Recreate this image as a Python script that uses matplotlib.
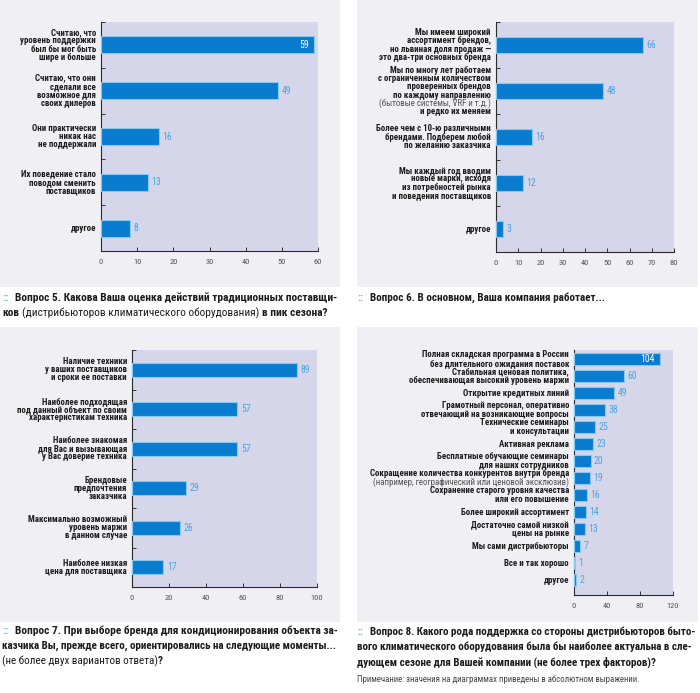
import numpy as np
import matplotlib
matplotlib.use('Agg')
import matplotlib.pyplot as plt
import matplotlib.transforms as mtrans
from matplotlib import font_manager as fm
from matplotlib.font_manager import FontProperties
from matplotlib.patches import Rectangle

# ---------------- data ----------------
q5_labels = ["Считаю, что\nуровень поддержки\nбыл бы мог быть\nшире и больше",
             "Считаю, что они\nсделали все\nвозможное для\nсвоих дилеров",
             "Они практически\nникак нас\nне поддержали",
             "Их поведение стало\nповодом сменить\nпоставщиков",
             "другое"]
q5_values = [59, 49, 16, 13, 8]
q5_ticks = [0, 10, 20, 30, 40, 50, 60]

q6_labels = ["Мы имеем широкий\nассортимент брендов,\nно львиная доля продаж —\nэто два-три основных бренда",
             "Мы по многу лет работаем\nс ограниченным количеством\nпроверенных брендов\nпо каждому направлению\n(бытовые системы, VRF и т.д.)\nи редко их меняем",
             "Более чем с 10-ю различными\nбрендами. Подберем любой\nпо желанию заказчика",
             "Мы каждый год вводим\nновые марки, исходя\nиз потребностей рынка\nи поведения поставщиков",
             "другое"]
q6_values = [66, 48, 16, 12, 3]
q6_ticks = [0, 10, 20, 30, 40, 50, 60, 70, 80]

q7_labels = ["Наличие техники\nу ваших поставщиков\nи сроки ее поставки",
             "Наиболее подходящая\nпод данный объект по своим\nхарактеристикам техника",
             "Наиболее знакомая\nдля Вас и вызывающая\nу Вас доверие техника",
             "Брендовые\nпредпочтения\nзаказчика",
             "Максимально возможный\nуровень маржи\nв данном случае",
             "Наиболее низкая\nцена для поставщика"]
q7_values = [89, 57, 57, 29, 26, 17]
q7_ticks = [0, 20, 40, 60, 80, 100]

q8_labels = ["Полная складская программа в России\nбез длительного ожидания поставок",
             "Стабильная ценовая политика,\nобеспечивающая высокий уровень маржи",
             "Открытие кредитных линий",
             "Грамотный персонал, оперативно\nотвечающий на возникающие вопросы",
             "Технические семинары\nи консультации",
             "Активная реклама",
             "Бесплатные обучающие семинары\nдля наших сотрудников",
             "Сокращение количества конкурентов внутри бренда\n(например, географический или ценовой эксклюзив)",
             "Сохранение старого уровня качества\nили его повышение",
             "Более широкий ассортимент",
             "Достаточно самой низкой\nцены на рынке",
             "Мы сами дистрибьюторы",
             "Все и так хорошо",
             "другое"]
q8_values = [104, 60, 49, 38, 25, 23, 20, 19, 16, 14, 13, 7, 1, 2]
q8_ticks = [0, 40, 80, 120]

caption5 = [[("Вопрос 5. Какова Ваша оценка действий традиционных поставщи-", 'bold')],
            [("ков", 'bold'), (" (дистрибьюторов климатического оборудования)", 'normal'),
             (" в пик сезона?", 'bold')]]
caption6 = [[("Вопрос 6. В основном, Ваша компания работает...", 'bold')]]
caption7 = [[("Вопрос 7. При выборе бренда для кондиционирования объекта за-", 'bold')],
            [("казчика Вы, прежде всего, ориентировались на следующие моменты...", 'bold')],
            [("(не более двух вариантов ответа)", 'normal'), ("?", 'bold')]]
caption8 = [[("Вопрос 8. Какого рода поддержка со стороны дистрибьюторов быто-", 'bold')],
            [("вого климатического оборудования была бы наиболее актуальна в сле-", 'bold')],
            [("дующем сезоне для Вашей компании (не более трех факторов)?", 'bold')]]
note_text = "Примечание: значения на диаграммах приведены в абсолютном выражении."

# ---------------- style ----------------
W, H = 700, 693
PANEL_BG = '#efeff4'
PLOT_BG = '#d6d6eb'
BAR = '#0a7ccf'
EDGE = '#86c9ef'
VAL = '#4aa3e0'
TXT = '#1c1c1c'
MARK = '#6ab6e8'


def pick_font():
    order = ['Roboto Condensed', 'Liberation Sans Narrow', 'Noto Sans', 'Noto Sans Condensed',
             'Open Sans', 'Open Sans Condensed', 'DejaVu Sans', 'Roboto']
    cond = {}
    for e in fm.fontManager.ttflist:
        st = str(e.stretch)
        if st in ('condensed', 'semi-condensed', 'extra-condensed') or 'Narrow' in e.name or 'Condensed' in e.name:
            cond.setdefault(e.name, []).append(st)
    for fam in order:
        if fam in cond:
            sts = cond[fam]
            for pref in ('condensed', 'semi-condensed', 'extra-condensed'):
                if pref in sts:
                    return fam, pref
            return fam, sts[0]
    return 'Liberation Sans', 'normal'


FAM, STRETCH = pick_font()


def FP(weight, size):
    return FontProperties(family=[FAM, 'DejaVu Sans'], stretch=STRETCH, weight=weight, size=size)


fig = plt.figure(figsize=(W / 100, H / 100), dpi=100)
fig.patch.set_facecolor('white')
renderer = fig.canvas.get_renderer()


def measure(text, fp):
    t = fig.text(0, 0, text, fontproperties=fp)
    w = t.get_window_extent(renderer).width
    t.remove()
    return w


def box(x0, y0, x1, y1):
    fig.add_artist(Rectangle((x0 / W, 1 - y1 / H), (x1 - x0) / W, (y1 - y0) / H,
                             transform=fig.transFigure, facecolor=PANEL_BG,
                             edgecolor='none', zorder=0))


box(0, 0, 340, 287)
box(357, 0, 698, 287)
box(0, 327, 340, 622)
box(357, 327, 698, 622)

# label font size fitted to a reference label line width
LABEL_SIZE = 10 * 147 / measure("Полная складская программа в России", FP('bold', 10))
VAL_SIZE = 7
TICK_SIZE = 6


def draw_panel(rect, labels, values, xmax, xticks, bar_h, inside, ylim, line_px,
               boundary_ticks=True):
    x0, y0, x1, y1 = rect
    ax = fig.add_axes([x0 / W, 1 - y1 / H, (x1 - x0) / W, (y1 - y0) / H])
    ax.set_facecolor(PLOT_BG)
    n = len(values)
    pos = np.arange(n)
    ax.barh(pos, values, height=bar_h, color=BAR, edgecolor=EDGE, linewidth=0.8, zorder=3)
    ax.set_xlim(0, xmax)
    ax.set_ylim(*ylim)
    ax.set_xticks(xticks)
    ax.set_xticklabels([str(t) for t in xticks])
    for lbl in ax.get_xticklabels():
        lbl.set_fontproperties(FP('normal', TICK_SIZE))
        lbl.set_color('#555555')
    ax.tick_params(axis='x', direction='in', length=3, width=0.7, pad=6, color='#333333')
    ax.set_yticks([])
    if boundary_ticks:
        ax.set_yticks(np.arange(n) - 0.5, minor=True)
        ax.tick_params(axis='y', which='minor', direction='in', length=3, width=0.7,
                       color='#333333', labelleft=False)
    for s in ('top', 'right'):
        ax.spines[s].set_visible(False)
    for s in ('left', 'bottom'):
        ax.spines[s].set_color('#2a2a2a')
        ax.spines[s].set_linewidth(0.8)

    trans = mtrans.blended_transform_factory(ax.transAxes, ax.transData)
    for i, lab in enumerate(labels):
        lines = lab.split('\n')
        k = len(lines)
        for j, line in enumerate(lines):
            off = ((k - 1) / 2 - j) * line_px
            reg = line.startswith('(')
            ax.annotate(line, xy=(0, i), xycoords=trans, xytext=(-5 * 0.72, off * 0.72),
                        textcoords='offset points', ha='right', va='center',
                        fontproperties=FP('normal' if reg else 'bold', LABEL_SIZE),
                        color='#555555' if reg else TXT)
    for i, v in enumerate(values):
        if i in inside:
            ax.annotate(str(v), xy=(v, i), xytext=(-4, 0), textcoords='offset points',
                        ha='right', va='center', color='white',
                        fontproperties=FP('normal', VAL_SIZE), zorder=5)
        else:
            ax.annotate(str(v), xy=(v, i), xytext=(2.5, 0), textcoords='offset points',
                        ha='left', va='center', color=VAL,
                        fontproperties=FP('normal', VAL_SIZE), zorder=5)
    return ax


draw_panel((101, 22, 318, 251), q5_labels, q5_values, 60, q5_ticks, 0.37, [0], (4.5, -0.5), 8.4)
draw_panel((496, 22, 674, 252), q6_labels, q6_values, 80, q6_ticks, 0.36, [], (4.5, -0.5), 8.2)
draw_panel((132, 350, 317, 587), q7_labels, q7_values, 100, q7_ticks, 0.36, [], (5.5, -0.5), 7.9)
draw_panel((574, 350, 673, 595), q8_labels, q8_values, 120, q8_ticks, 0.7, [0],
           (13.88, -0.53), 8.8, boundary_ticks=False)


# ---------------- captions ----------------
captions = [
    (caption5, 2, 15, 338, 2, [298, 313]),
    (caption6, 357, 370, 695, 357, [298]),
    (caption7, 2, 15, 338, 2, [631, 646, 661]),
    (caption8, 357, 370, 695, 357, [632, 647, 662]),
]

BASE = 10
# per-line fitted size for justified (non-final, single-weight) lines
fit = []
for cap, xm, xt, xr, xl, ys in captions:
    szs = []
    for li, line in enumerate(cap[:-1]):
        text = ''.join(s for s, w in line)
        start = xt if li == 0 else xl
        szs.append(BASE * (xr - start) / measure(text, FP(line[0][1], BASE)))
    fit.append(szs)
all_fit = [s for szs in fit for s in szs]
default_size = float(np.mean(all_fit))

for (cap, xm, xt, xr, xl, ys), szs in zip(captions, fit):
    csize = float(np.mean(szs)) if szs else default_size
    fig.text(xm / W, 1 - ys[0] / H, "::", fontproperties=FP('bold', csize), color=MARK,
             ha='left', va='center')
    for li, line in enumerate(cap):
        start = xt if li == 0 else xl
        size = szs[li] if li < len(szs) else csize
        x = start
        for seg, wt in line:
            fp = FP(wt, size)
            if seg.startswith(' '):
                x += measure('н н', fp) - measure('нн', fp)
                seg = seg.lstrip(' ')
            fig.text(x / W, 1 - ys[li] / H, seg, fontproperties=fp, color=TXT,
                     ha='left', va='center')
            x += measure(seg, fp)

NOTE_SIZE = 10 * (640 - 357) / measure(note_text, FP('normal', 10))
fig.text(357 / W, 1 - 680 / H, note_text, fontproperties=FP('normal', NOTE_SIZE),
         color='#444444', ha='left', va='center')

fig.savefig('out.png', dpi=100, facecolor='white')
